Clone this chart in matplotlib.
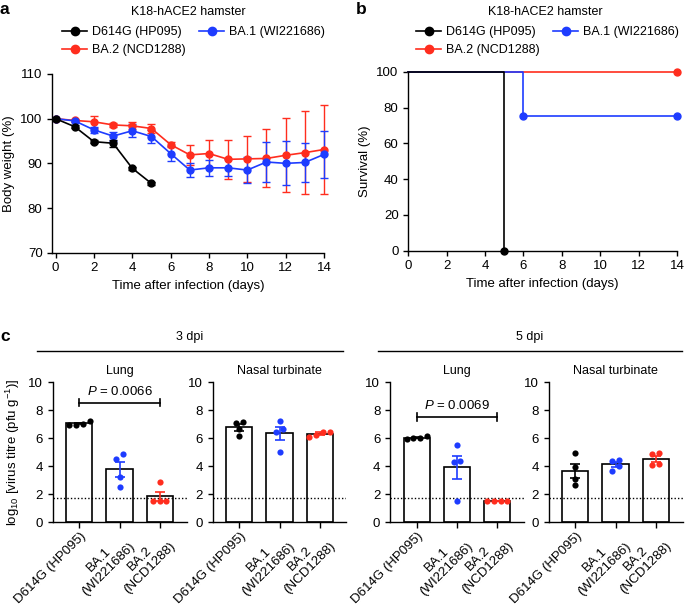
import numpy as np
import matplotlib
matplotlib.use("Agg")
import matplotlib.pyplot as plt
from matplotlib.lines import Line2D

plt.rcParams['font.family'] = ['Liberation Sans', 'DejaVu Sans']
plt.rcParams['font.size'] = 9
plt.rcParams['mathtext.fontset'] = 'custom'
plt.rcParams['mathtext.rm'] = 'Liberation Sans'
plt.rcParams['mathtext.it'] = 'Liberation Sans:italic'
plt.rcParams['axes.linewidth'] = 1.0
plt.rcParams['xtick.major.width'] = 1.0
plt.rcParams['ytick.major.width'] = 1.0
plt.rcParams['xtick.major.size'] = 3.5
plt.rcParams['ytick.major.size'] = 3.5

BLACK = '#000000'
BLUE = '#1e3cff'
RED = '#ff2d1e'

# ---- panel a: body weight ----
days = np.arange(0, 15)
d614g_days = np.arange(0, 6)
d614g_wt = [100, 98.2, 94.85, 94.5, 88.9, 85.5]
d614g_err = [0, 0.3, 0.3, 0.75, 0.3, 0.3]
ba1_wt = [100, 99.5, 97.5, 96.1, 97.3, 96.0, 92.2, 88.5, 89.0, 89.0, 88.5, 90.3, 90.0, 90.2, 92.0]
ba1_err = [0, 0.3, 0.6, 1.0, 1.5, 1.5, 1.7, 1.6, 1.85, 1.9, 3.0, 4.45, 4.95, 4.45, 5.2]
ba2_wt = [100, 99.6, 99.3, 98.6, 98.4, 97.8, 94.2, 91.9, 92.2, 90.9, 91.0, 91.1, 91.8, 92.4, 93.1]
ba2_err = [0, 0.3, 1.4, 0.4, 0.8, 0.9, 0.6, 2.2, 3.1, 4.4, 5.2, 6.5, 8.3, 9.35, 10.0]

# ---- panel b: survival ----
d614g_t = [0, 5]
d614g_surv = [100, 0]
ba1_t = [0, 6, 14]
ba1_surv = [100, 75, 75]
ba2_t = [0, 14]
ba2_surv = [100, 100]

# ---- panel c: virus titres (log10 pfu/g), 4 animals per group ----
groups = ['D614G (HP095)', 'BA.1\n(WI221686)', 'BA.2\n(NCD1288)']
lung_3dpi = [[6.95, 7.25, 6.98, 7.05], [4.52, 4.86, 3.26, 2.55], [2.86, 1.52, 1.52, 1.52]]
nasal_3dpi = [[7.19, 7.12, 6.17, 6.68], [7.26, 6.67, 6.48, 5.02], [6.48, 6.48, 6.12, 6.24]]
lung_5dpi = [[5.98, 6.17, 6.0, 6.03], [5.50, 4.38, 4.28, 1.51], [1.51, 1.51, 1.51, 1.51]]
nasal_5dpi = [[4.95, 3.98, 3.10, 2.67], [4.45, 4.40, 4.02, 3.67], [4.88, 4.93, 4.10, 4.17]]
detection_limit = 1.7
p_3dpi = 'P = 0.0066'
p_5dpi = 'P = 0.0069'

colors = [BLACK, BLUE, RED]
names = ['D614G (HP095)', 'BA.1 (WI221686)', 'BA.2 (NCD1288)']

fig = plt.figure(figsize=(6.85, 6.07), dpi=100)
W, H = 685.0, 607.0


def box(x0, x1, ytop, ybot):
    # pixel box -> figure fraction
    return [x0 / W, 1 - ybot / H, (x1 - x0) / W, (ybot - ytop) / H]


def legend_for(xpx):
    hs = [Line2D([], [], color=c, marker='o', ms=6, lw=1.2) for c in colors]
    order = [0, 2, 1]
    fig.legend([hs[i] for i in order], [names[i] for i in order], ncol=2,
               loc='upper left', bbox_to_anchor=(xpx / W, 1 - 26 / H),
               frameon=False, handlelength=2.0, handletextpad=0.4,
               columnspacing=1.1, labelspacing=0.5, borderaxespad=0,
               borderpad=0, fontsize=9)


# panel a
ax = fig.add_axes(box(52.3, 324, 74, 252.7))
ax.errorbar(days, ba2_wt, yerr=ba2_err, color=RED, marker='o', ms=5, lw=1.2,
            elinewidth=1.0, capsize=2.6, capthick=1.0, clip_on=False)
ax.errorbar(days, ba1_wt, yerr=ba1_err, color=BLUE, marker='o', ms=5, lw=1.2,
            elinewidth=1.0, capsize=2.6, capthick=1.0, clip_on=False)
ax.errorbar(d614g_days, d614g_wt, yerr=d614g_err, color=BLACK, marker='o', ms=5,
            lw=1.2, elinewidth=1.0, capsize=2.6, capthick=1.0, clip_on=False)
ax.set_xlim(-0.17, 14)
ax.set_ylim(70, 110)
ax.set_xticks(range(0, 15, 2))
ax.set_yticks(range(70, 111, 10))
ax.tick_params(labelsize=9.5)
ax.spines[['top', 'right']].set_visible(False)
ax.set_xlabel('Time after infection (days)', fontsize=9.5)
ax.set_ylabel('Body weight (%)', fontsize=9.5)
fig.text(188 / W, 1 - 12 / H, 'K18-hACE2 hamster', ha='center', va='center', fontsize=9)
fig.text(0, 1 - 10 / H, 'a', fontsize=12.5, fontweight='bold', va='center')
legend_for(62)

# panel b
ax = fig.add_axes(box(408.3, 677, 71.7, 250.7))
ax.plot(ba2_t, ba2_surv, color=RED, drawstyle='steps-post', lw=1.2,
        marker='o', ms=5, markevery=[1], clip_on=False)
ax.plot(ba1_t, ba1_surv, color=BLUE, drawstyle='steps-post', lw=1.2,
        marker='o', ms=5, markevery=[1, 2], clip_on=False)
ax.plot(d614g_t, d614g_surv, color=BLACK, drawstyle='steps-post', lw=1.2,
        marker='o', ms=5, markevery=[1], clip_on=False, zorder=5)
ax.set_xlim(0, 14)
ax.set_ylim(0, 100)
ax.set_xticks(range(0, 15, 2))
ax.set_yticks(range(0, 101, 20))
ax.tick_params(labelsize=9.5)
ax.spines[['top', 'right']].set_visible(False)
ax.set_xlabel('Time after infection (days)', fontsize=9.5)
ax.set_ylabel('Survival (%)', fontsize=9.5)
fig.text(545 / W, 1 - 12 / H, 'K18-hACE2 hamster', ha='center', va='center', fontsize=9)
fig.text(356 / W, 1 - 10 / H, 'b', fontsize=12.5, fontweight='bold', va='center')
legend_for(416)


# panel c
def swarm(vals, thr=0.36, step=0.17):
    vals = np.asarray(vals, float)
    idx = np.argsort(vals)
    off = np.zeros(len(vals))
    clusters = [[idx[0]]]
    for i in idx[1:]:
        if vals[i] - vals[clusters[-1][-1]] < thr:
            clusters[-1].append(i)
        else:
            clusters.append([i])
    for cl in clusters:
        n = len(cl)
        for k, i in enumerate(cl):
            off[i] = (k - (n - 1) / 2) * step
    return off


def titre_panel(x0, data, title, ptext=None, pbar=None):
    ax = fig.add_axes(box(x0, x0 + 134, 382.3, 522.3))
    for i, vals in enumerate(data):
        m = np.mean(vals)
        sem = np.std(vals, ddof=1) / np.sqrt(len(vals))
        ax.bar(i, m, width=0.65, color='white', edgecolor='black', lw=1.2, zorder=1)
        ax.scatter(i + swarm(vals), vals, s=20, color=colors[i], zorder=3, lw=0)
        ax.errorbar(i, m, yerr=sem, color=colors[i], capsize=3.6, elinewidth=1.2,
                    capthick=1.2, zorder=4)
    ax.axhline(detection_limit, color='black', ls=(0, (1, 1.5)), lw=1.0, zorder=2)
    ax.set_xlim(-0.67, 2.67)
    ax.set_ylim(0, 10)
    ax.set_yticks(range(0, 11, 2))
    ax.set_xticks(range(3))
    ax.set_xticklabels(groups, rotation=45, ha='right', rotation_mode='anchor',
                       multialignment='center', fontsize=9)
    ax.tick_params(labelsize=9.5)
    ax.tick_params(axis='x', length=4, pad=2)
    ax.spines[['top', 'right']].set_visible(False)
    ax.set_title(title, fontsize=9, pad=6)
    if ptext:
        ax.plot([0, 2], [pbar, pbar], color='black', lw=1.2)
        ax.plot([0, 0], [pbar - 0.27, pbar + 0.27], color='black', lw=1.2)
        ax.plot([2, 2], [pbar - 0.27, pbar + 0.27], color='black', lw=1.2)
        p, rest = ptext.split(' ', 1)
        ax.text(1, pbar + 0.35, '$' + p + '$ ' + rest, ha='center', va='bottom', fontsize=9.5)
    return ax


ax = titre_panel(52.5, lung_3dpi, 'Lung', p_3dpi, 8.55)
ax.set_ylabel('log$_{10}$ [virus titre (pfu g$^{-1}$)]', fontsize=9.5)
titre_panel(212.5, nasal_3dpi, 'Nasal turbinate')
titre_panel(390, lung_5dpi, 'Lung', p_5dpi, 7.54)
titre_panel(548.5, nasal_5dpi, 'Nasal turbinate')

# dpi headers
for x0, x1, label in [(37, 343, '3 dpi'), (378, 682, '5 dpi')]:
    fig.add_artist(Line2D([x0 / W, x1 / W], [1 - 351 / H, 1 - 351 / H], color='black', lw=1.0))
    fig.text((x0 + x1) / 2 / W, 1 - 337 / H, label, ha='center', va='center', fontsize=9)
fig.text(0, 1 - 337 / H, 'c', fontsize=12.5, fontweight='bold', va='center')

fig.savefig('out.png', dpi=100)
